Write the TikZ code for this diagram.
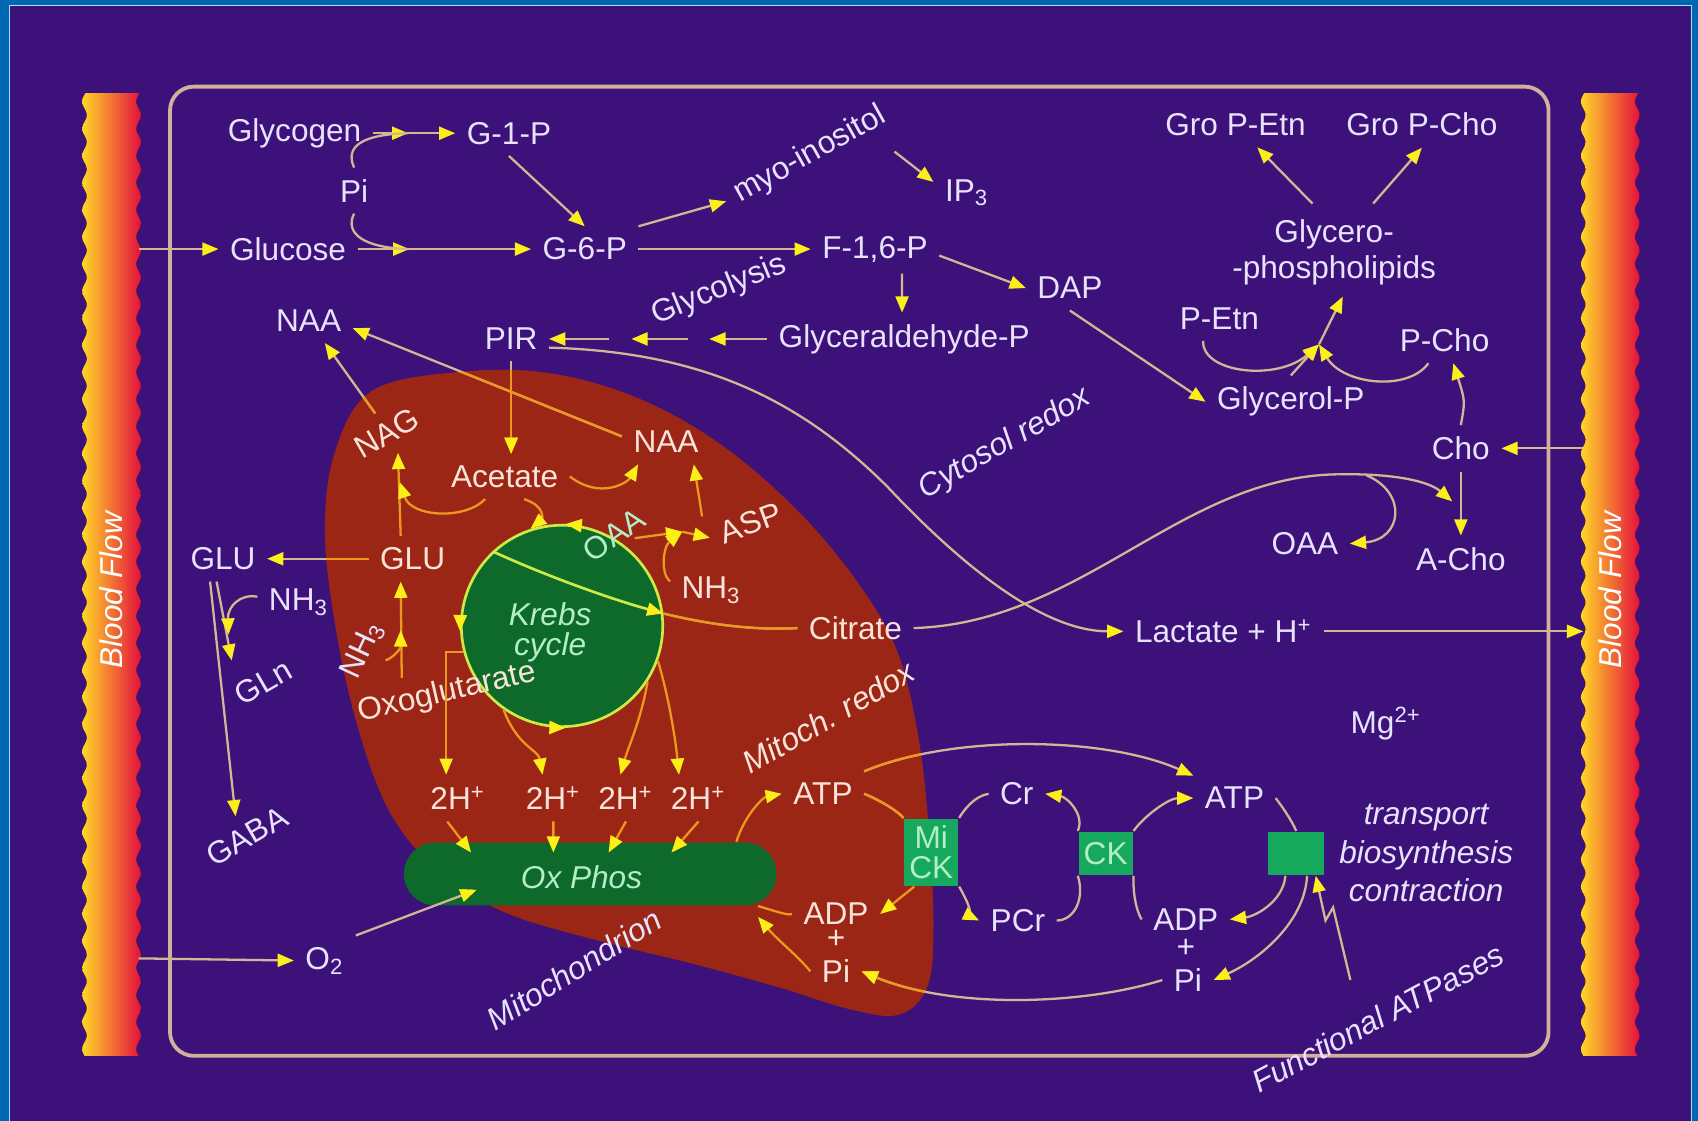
\documentclass[tikz,border=0pt]{standalone}
\usepackage{fontspec}
\setmainfont{Liberation Sans}
\usetikzlibrary{arrows.meta}

\definecolor{edgeblue}{RGB}{0,104,178}
\definecolor{bgpurple}{RGB}{60,18,122}
\definecolor{cellrim}{RGB}{210,176,156}
\definecolor{mitored}{RGB}{156,38,22}
\definecolor{krebsgrn}{RGB}{14,106,42}
\definecolor{krebsrim}{RGB}{205,235,70}
\definecolor{boxgrn}{RGB}{22,168,92}
\definecolor{lntan}{RGB}{212,182,148}
\definecolor{lnorange}{RGB}{236,152,28}
\definecolor{tipyel}{RGB}{252,238,24}
\definecolor{txtlav}{RGB}{232,226,252}
\definecolor{txtpink}{RGB}{250,228,218}
\definecolor{txtgrn}{RGB}{178,238,200}
\definecolor{bfyel}{RGB}{255,214,40}
\definecolor{bforange}{RGB}{246,128,50}
\definecolor{bfred}{RGB}{228,16,62}

% outline of the mitochondrion
\newcommand\mitopath{plot[smooth cycle, tension=0.6] coordinates {
  (345,360) (430,343) (510,345) (590,368) (665,410) (735,470) (790,535)
  (828,600) (848,680) (858,770) (862,860) (856,912) (830,937) (785,932)
  (720,912) (640,890) (550,868) (465,842) (405,805) (360,750) (330,670)
  (310,580) (300,490) (310,415)}}

% connectors that run in and out of the mitochondrion
\newcommand\crosslines{%
  \draw[xfl] ([yshift=0.5mm]naa2.west) -- ([yshift=-0.7mm]naa1.east);
  \draw[xfl] (nag.north) -- ([xshift=1.5mm]naa1.south);
  \draw[xfl] (pir.south) -- (pir.south |- acet.north);
  \draw[xfl] (glu2.west) -- (glu1.east);
  \draw[xln] (kc.7) .. controls (660,578) and (700,582) .. (cit.west);
  \draw[xfl] (o2.north east) -- ([xshift=-10.5mm,yshift=1.5mm]oxphos.south);
  \draw[xfl] (atp1.north east) .. controls (880,678) and (1020,680) .. (atp2.north west);
  \draw[xfl] (pi3.west) .. controls (1000,928) and (880,932) .. (pi2.east);
  \draw[xln] (atp1.east) .. controls (815,740) and (830,750) .. (mick.north west);
  \draw[xfl] (mick.south east) .. controls (895,835) and (900,848) .. (pcr.west);
}

\begin{document}
\begin{tikzpicture}[x=0.1mm, y=-0.1mm,
  >={Triangle[length=1.5mm,width=1.2mm,color=tipyel]},
  lbl/.style={text=txtlav, inner sep=1mm, font=\fontsize{8.3}{9.4}\selectfont},
  mlbl/.style={lbl, text=txtpink},
  klbl/.style={lbl, text=txtgrn},
  remark/.style={lbl, font=\fontsize{8.3}{10.1}\selectfont\itshape},
  fl/.style={draw=lntan, line width=0.6pt, ->},
  ln/.style={draw=lntan, line width=0.6pt},
  mfl/.style={draw=lnorange, line width=0.6pt, ->},
  mln/.style={draw=lnorange, line width=0.6pt},
  rimtip/.style={draw=krebsrim, line width=0.7pt, ->},
  enz/.style={fill=boxgrn, text=txtgrn, inner sep=0pt, align=center,
    font=\fontsize{8.3}{8}\selectfont}]

  \useasboundingbox (0,0) rectangle (1568,1035);
  \fill[edgeblue] (0,0) rectangle (1568,1035);
  \fill[bgpurple, draw=cyan!35, line width=0.3pt] (9,5) rectangle (1562,1040);

  % blood vessels
  \foreach \bx in {78,1462} {
    \fill[left color=bfyel, middle color=bforange, right color=bfred]
      plot[variable=\t, domain=86:975, samples=240, smooth] ({\bx+2.2*sin(14.4*\t)},\t)
      -- plot[variable=\t, domain=975:86, samples=240, smooth] ({\bx+50+2.2*sin(14.4*\t)},\t)
      -- cycle;
  }
  \node[remark, rotate=90, text=white] (bfl) at (103,545) {Blood Flow};
  \node[remark, rotate=90, text=white] (bfr) at (1487,545) {Blood Flow};

  % cell
  \draw[cellrim, line width=1pt, rounded corners=2.2mm] (157,80) rectangle (1430,975);

  % mitochondrion
  \fill[mitored] \mitopath;
  \node[fill=krebsgrn, rounded corners=2.9mm, minimum width=34.4mm,
    minimum height=5.8mm, inner sep=0pt] (oxphos) at (545,807) {};
  \node[circle, fill=krebsgrn, draw=krebsrim, line width=0.7pt,
    minimum size=18.6mm, inner sep=0pt] (kc) at (519,578) {};
  \node[klbl, font=\fontsize{8.3}{9.4}\selectfont\itshape] (oxtxt) at (537,810) {Ox Phos};
  \node[klbl, align=center, font=\fontsize{8.3}{8}\selectfont\itshape] (krebs) at (508,584) {Krebs\\cycle};

  % enzymes
  \node[enz, minimum width=5mm, minimum height=6.2mm] (mick) at (860,787) {Mi\\CK};
  \node[enz, minimum width=5mm, minimum height=4mm] (ck) at (1021,788) {CK};
  \node[enz, minimum width=5.2mm, minimum height=4mm] (abox) at (1197,788) {};

  % cytosol metabolites
  \node[lbl] (glycogen) at (272,123) {Glycogen};
  \node[lbl] (g1p) at (470,123) {G-1-P};
  \node[lbl] (pi1) at (327,176) {Pi};
  \node[lbl] (glucose) at (266,230) {Glucose};
  \node[lbl] (g6p) at (540,230) {G-6-P};
  \node[lbl, rotate=29] (myo) at (748,143) {myo-inositol};
  \node[lbl] (ip3) at (893,178) {IP\textsubscript{3}};
  \node[lbl] (f16p) at (808,230) {F-1,6-P};
  \node[lbl] (dap) at (988,266) {DAP};
  \node[lbl, rotate=22] (glycolysis) at (664,268) {Glycolysis};
  \node[lbl] (gap) at (835,313) {Glyceraldehyde-P};
  \node[lbl] (naa1) at (285,296) {NAA};
  \node[lbl] (pir) at (472,313) {PIR};
  \node[lbl] (gpe) at (1141,115) {Gro P-Etn};
  \node[lbl] (gpc) at (1313,115) {Gro P-Cho};
  \node[lbl, align=center] (gpl) at (1232,233) {Glycero-\\-phospholipids};
  \node[lbl] (petn) at (1126,294) {P-Etn};
  \node[lbl] (pcho) at (1334,314) {P-Cho};
  \node[lbl] (glycp) at (1192,371) {Glycerol-P};
  \node[remark, rotate=30] (cytredox) at (928,410) {Cytosol redox};
  \node[lbl] (cho) at (1349,414) {Cho};
  \node[lbl] (oaa2) at (1205,502) {OAA};
  \node[lbl] (acho) at (1349,516) {A-Cho};
  \node[lbl] (lact) at (1130,583) {Lactate + H\textsuperscript{+}};
  \node[lbl] (mg) at (1280,668) {Mg\textsuperscript{2+}};
  \node[lbl] (glu1) at (206,516) {GLU};
  \node[lbl] (nh3a) at (276,556) {NH\textsubscript{3}};
  \node[lbl, rotate=30] (gln) at (243,630) {GLn};
  \node[lbl, rotate=30] (gaba) at (228,772) {GABA};
  \node[lbl] (o2) at (300,887) {O\textsubscript{2}};
  \node[remark, rotate=32] (mito) at (530,895) {Mitochondrion};
  \node[lbl] (cr) at (939,733) {Cr};
  \node[lbl] (pcr) at (940,850) {PCr};
  \node[lbl] (atp2) at (1140,737) {ATP};
  \node[lbl] (adp2) at (1095,849) {ADP};
  \node[lbl] (plus2) at (1095,876) {+};
  \node[lbl] (pi3) at (1097,905) {Pi};
  \node[remark, align=center] (tasks) at (1317,788) {transport\\biosynthesis\\contraction};
  \node[remark, rotate=28] (fatp) at (1272,940) {Functional ATPases};

  % mitochondrial metabolites
  \node[mlbl, rotate=30] (nag) at (357,400) {NAG};
  \node[mlbl] (acet) at (466,440) {Acetate};
  \node[mlbl] (naa2) at (615,408) {NAA};
  \node[mlbl, rotate=20] (asp) at (693,483) {ASP};
  \node[klbl, rotate=35] (oaa1) at (567,494) {OAA};
  \node[mlbl] (nh3c) at (657,545) {NH\textsubscript{3}};
  \node[mlbl] (glu2) at (381,516) {GLU};
  \node[lbl, rotate=65] (nh3b) at (335,600) {NH\textsubscript{3}};
  \node[mlbl, rotate=13] (oxo) at (413,640) {Oxoglutarate};
  \node[mlbl] (cit) at (790,580) {Citrate};
  \node[remark, rotate=30, text=txtpink] (mitredox) at (765,662) {Mitoch. redox};
  \node[mlbl] (h1) at (423,737) {2H\textsuperscript{+}};
  \node[mlbl] (h2) at (511,737) {2H\textsuperscript{+}};
  \node[mlbl] (h3) at (578,737) {2H\textsuperscript{+}};
  \node[mlbl] (h4) at (645,737) {2H\textsuperscript{+}};
  \node[mlbl] (atp1) at (760,733) {ATP};
  \node[mlbl] (adp1) at (772,844) {ADP};
  \node[mlbl] (plus1) at (772,867) {+};
  \node[mlbl] (pi2) at (772,897) {Pi};

  % free ends
  \coordinate (lb1) at (128,230);
  \coordinate (lb2) at (128,885);
  \coordinate (rb1) at (1462,414);
  \coordinate (rb2) at (1462,583);
  \coordinate (gm1) at (377,123);
  \coordinate (gm2) at (378,230);
  \coordinate (myoe) at (826,140);
  \coordinate (ga1) at (655,313);
  \coordinate (ga2) at (635,313);
  \coordinate (ga3) at (583,313);
  \coordinate (ga4) at (562,313);
  \coordinate (mj) at (1218,318);
  \coordinate (gl1) at (1212,188);
  \coordinate (gl2) at (1268,188);
  \coordinate (cpk) at (1235,438);
  \coordinate (acj) at (1341,463);
  \coordinate (cbr) at (1262,439);
  \coordinate (oxj) at (371,626);
  \coordinate (nhj) at (370,582);
  \coordinate (nj) at (369,445);
  \coordinate (g1j) at (211,586);
  \coordinate (glnt) at (214,610);
  \coordinate (oaaj) at (586,497);
  \coordinate (aspm) at (630,491);
  \coordinate (ltn) at (1247,905);

  % blood exchange
  \draw[fl] (lb1) -- (glucose.west);
  \draw[fl] (lb2) -- (o2.west);
  \draw[fl] (rb1) -- (cho.east);
  \draw[fl] (lact.east) -- (rb2);

  % glycogen, glucose and glycolysis
  \draw[fl] (glycogen.east) -- (gm1);
  \draw[fl] (gm1) -- (g1p.west);
  \draw[fl] (glucose.east) -- (gm2);
  \draw[fl] (gm2) -- (g6p.west);
  \draw[ln] (pi1.north) .. controls (318,135) and (335,124) .. (gm1);
  \draw[ln] (pi1.south) .. controls (318,215) and (335,229) .. (gm2);
  \draw[fl] (g1p.south) -- (g6p.north);
  \draw[fl] (g6p.north east) -- (myo.west);
  \draw[fl] (myoe) -- ([yshift=1mm]ip3.west);
  \draw[fl] (g6p.east) -- (f16p.west);
  \draw[fl] ([xshift=2.5mm]f16p.south) -- ([xshift=-0.2mm]gap.north);
  \draw[fl] ([yshift=-0.6mm]f16p.east) -- (dap.west);
  \draw[fl] (gap.west) -- (ga1);
  \draw[fl] (ga2) -- (ga3);
  \draw[fl] (ga4) -- (pir.east);
  \draw[fl] ([yshift=-0.8mm]pir.east) .. controls (650,325) and (740,370) .. (820,450)
    .. controls (900,535) and (970,583) .. (lact.west);

  % phospholipids
  \draw[fl] (dap.south) -- (glycp.west);
  \draw[fl] (glycp.north) -- (mj);
  \draw[fl] (mj) -- ([xshift=0.8mm]gpl.south);
  \draw[fl] ([xshift=-1.5mm]petn.south) .. controls (1110,345) and (1180,352) .. (mj);
  \draw[fl] ([xshift=-1.5mm]pcho.south) .. controls (1300,362) and (1240,355) .. (mj);
  \draw[fl] (gl1) -- ([xshift=2mm]gpe.south);
  \draw[fl] (gl2) -- (gpc.south);
  \draw[fl] (cho.north) .. controls (1353,370) .. ([xshift=0.8mm]pcho.south);
  \draw[fl] (cho.south) -- (acho.north);

  % citrate out to the cytosol
  \draw[ln] (cit.east) .. controls (1000,575) and (1090,440) .. (cpk);
  \draw[fl] (cpk) .. controls (1290,437) and (1320,445) .. (acj);
  \draw[fl] (cbr) .. controls (1300,455) and (1295,498) .. (oaa2.east);

  % glutamate
  \draw[fl] ([xshift=-0.6mm]glu1.south) -- (glnt);
  \draw[fl] ([yshift=0.5mm]nh3a.west) .. controls (222,548) and (210,560) .. (g1j);
  \draw[fl] ([xshift=-1.2mm]glu1.south) -- (gaba.north);
  \draw[mfl] ([xshift=-1.1mm]glu2.north) -- (nag.south);
  \draw[mfl] (oxj) -- ([xshift=-1.1mm]glu2.south);
  \draw[mfl] (nh3b.south) .. controls (362,608) and (370,600) .. (nhj);

  % acetate, NAA and ASP
  \draw[mfl] ([xshift=-1.8mm]acet.south) .. controls (430,480) and (380,478) .. (nj);
  \draw[mfl] (acet.east) .. controls (555,462) and (580,445) .. ([xshift=1.5mm]naa2.south west);
  \draw[mfl] ([xshift=1.8mm]acet.south) .. controls (505,468) and (500,480) .. (kc.108);
  \draw[mfl] (oaaj) -- (aspm);
  \draw[mfl] (aspm) -- (asp.west);
  \draw[mfl] ([yshift=0.8mm]nh3c.west) .. controls (610,530) and (612,505) .. (aspm);
  \draw[mfl] (asp.north west) -- ([xshift=-1.5mm]naa2.south east);

  % Krebs cycle
  \draw[rimtip] (kc.133) .. controls (500,530) and (560,552) .. (kc.7);
  \draw[rimtip] (kc.80) -- (kc.88);
  \draw[rimtip] (kc.176) -- (kc.183);
  \draw[rimtip] (kc.265) -- (kc.272);

  % reducing equivalents to Ox Phos
  \draw[mfl] (kc.195) -| ([xshift=-1.1mm]h1.north);
  \draw[mfl] (kc.235) .. controls (478,690) and (497,692) .. ([xshift=-1mm]h2.north);
  \draw[mfl] (kc.327) .. controls (592,665) and (580,690) .. ([xshift=-0.5mm]h3.north);
  \draw[mfl] (kc.340) .. controls (618,645) and (624,685) .. ([xshift=-1.8mm]h4.north);
  \draw[mfl] ([xshift=-1mm]h1.south) -- ([xshift=-11mm,yshift=-1mm]oxphos.north);
  \draw[mfl] (h2.south) -- ([xshift=-3.4mm,yshift=-1mm]oxphos.north);
  \draw[mfl] (h3.south) -- ([xshift=1.7mm,yshift=-1mm]oxphos.north);
  \draw[mfl] (h4.south) -- ([xshift=7.5mm,yshift=-1mm]oxphos.north);

  % energy shuttle
  \draw[mfl] ([xshift=13.5mm]oxphos.north) .. controls (688,752) and (705,736) .. (atp1.west);
  \draw[mfl] ([xshift=1mm]mick.south west) -- (adp1.east);
  \draw[mln] (adp1.west) .. controls (728,846) and (712,840) .. ([xshift=15.5mm]oxphos.south);
  \draw[mfl] (pi2.west) .. controls (738,884) and (718,868) .. ([xshift=15.5mm,yshift=-1mm]oxphos.south);
  \draw[ln] (cr.west) .. controls (900,735) and (890,748) .. (mick.north east);
  \draw[fl] (ck.north west) .. controls (1002,752) and (985,736) .. (cr.east);
  \draw[ln] (pcr.east) .. controls (992,850) and (1002,830) .. (ck.south west);
  \draw[fl] (ck.north east) .. controls (1058,752) and (1080,737) .. (atp2.west);
  \draw[ln] (ck.south east) .. controls (1046,832) and (1052,846) .. (adp2.west);
  \draw[ln] (atp2.east) .. controls (1182,742) and (1192,756) .. (abox.north);
  \draw[fl] ([xshift=-1mm]abox.south) .. controls (1185,832) and (1160,846) .. (adp2.east);
  \draw[fl] ([xshift=1mm]abox.south) .. controls (1205,850) and (1165,885) .. (pi3.east);
  \draw[fl] (ltn) -- (1231,838) -- (1224,850) -- ([xshift=1.8mm]abox.south);

  % lines crossing the mitochondrial membrane: tan outside, orange inside
  \begin{scope}[xfl/.style={fl}, xln/.style={ln}]
    \crosslines
  \end{scope}
  \begin{scope}[xfl/.style={mfl}, xln/.style={mln}]
    \clip \mitopath;
    \crosslines
  \end{scope}

\end{tikzpicture}
\end{document}
